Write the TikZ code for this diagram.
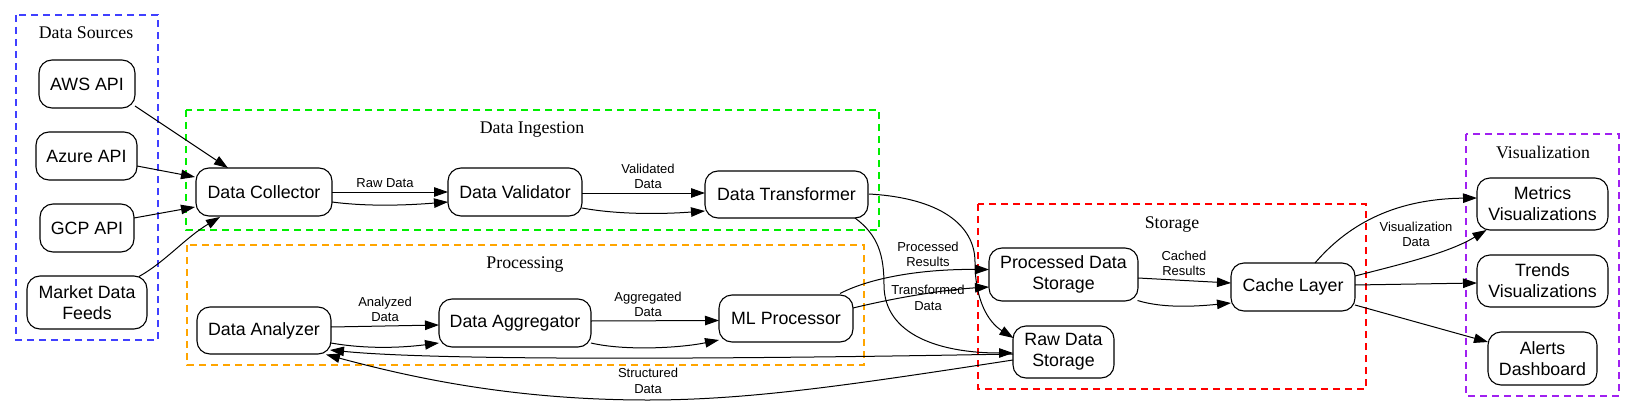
\documentclass[tikz,border=0pt]{standalone}
\usepackage{fontspec}
\setmainfont{Liberation Sans}
\newfontfamily\clusserif{Liberation Serif}
\usetikzlibrary{arrows.meta,calc}
\definecolor{cblue}{HTML}{4040FF}
\definecolor{cgreen}{HTML}{00EE00}
\definecolor{corange}{HTML}{FFA500}
\definecolor{cred}{HTML}{FF0000}
\definecolor{cpurple}{HTML}{A020F0}
\newcommand\nodefnt{\fontsize{17.8}{21}\selectfont}
\newcommand\lblfnt{\fontsize{13}{15.5}\selectfont}
\newcommand\clusfnt{\clusserif\fontsize{17.8}{21}\selectfont}
\begin{document}
\begin{tikzpicture}[x=1pt,y=-1pt,
  box/.style={draw, fill=white, rounded corners=13pt, line width=1.1pt, inner sep=0pt, font=\nodefnt, align=center},
  cluster/.style={line width=1.1pt, dash pattern=on 7pt off 5pt},
  clabel/.style={font=\clusfnt, inner sep=0pt, anchor=base},
  lbl/.style={font=\lblfnt, align=center, inner sep=0pt},
  edge/.style={line width=1.0pt, -{Triangle[length=14pt,width=9.5pt]}}]
\useasboundingbox (0,0) rectangle (1635,412);
% clusters
\draw[cluster, cblue] (16,15) rectangle (158,340);
\node[clabel] (lsrc) at (86,39) {Data Sources};
\draw[cluster, cgreen] (186,110) rectangle (879,230);
\node[clabel] (ling) at (532,133) {Data Ingestion};
\draw[cluster, corange] (187,245) rectangle (864,365);
\node[clabel] (lproc) at (525,268) {Processing};
\draw[cluster, cred] (978,204) rectangle (1366,389);
\node[clabel] (lsto) at (1172,228) {Storage};
\draw[cluster, cpurple] (1466,134) rectangle (1619,396);
\node[clabel] (lvz) at (1543,158) {Visualization};
% nodes
\node[box, minimum width=96, minimum height=48] (aws) at (87,84) {AWS API};
\node[box, minimum width=101, minimum height=48] (azure) at (86.5,156) {Azure API};
\node[box, minimum width=94, minimum height=48] (gcp) at (87,228) {GCP API};
\node[box, minimum width=120, minimum height=53] (mkt) at (87,302.5) {Market Data\\Feeds};
\node[box, minimum width=136, minimum height=48] (col) at (264,192) {Data Collector};
\node[box, minimum width=134, minimum height=48] (val) at (515,192) {Data Validator};
\node[box, minimum width=163, minimum height=47] (trn) at (786.5,194.5) {Data Transformer};
\node[box, minimum width=134, minimum height=47] (ana) at (264,330.5) {Data Analyzer};
\node[box, minimum width=152, minimum height=48] (agg) at (515,323) {Data Aggregator};
\node[box, minimum width=134, minimum height=47] (ml) at (786,318.5) {ML Processor};
\node[box, minimum width=149, minimum height=53] (prc) at (1063.5,274.5) {Processed Data\\Storage};
\node[box, minimum width=101, minimum height=52] (raw) at (1063.5,352) {Raw Data\\Storage};
\node[box, minimum width=124, minimum height=48] (cch) at (1293,287) {Cache Layer};
\node[box, minimum width=131, minimum height=52] (met) at (1542.5,204) {Metrics\\Visualizations};
\node[box, minimum width=131, minimum height=52] (trd) at (1542.5,281) {Trends\\Visualizations};
\node[box, minimum width=109, minimum height=53] (alr) at (1542.5,358.5) {Alerts\\Dashboard};
% edges
\draw[edge] ($(aws)+(48,22)$) -- ($(col)+(-36,-24)$);
\draw[edge] ($(azure)+(50.5,10)$) -- ($(col)+(-69,-15)$);
\draw[edge] ($(gcp)+(47,-10)$) -- ($(col)+(-69,15)$);
\draw[edge] ($(mkt)+(52,-26)$) .. controls (165,262) and (185,238) .. ($(col)+(-44,25)$);
\draw[edge] ($(col)+(68,0)$) -- ($(val)+(-67,0)$);
\draw[edge] ($(col)+(68,10)$) .. controls (370,207) and (410,205) .. ($(val)+(-67,10)$);
\draw[edge] ($(val)+(67,1)$) -- ($(trn)+(-81.5,-1.5)$);
\draw[edge] ($(val)+(67,16)$) .. controls (620,215) and (665,214) .. ($(trn)+(-81.5,16.5)$);
\draw[edge] ($(trn)+(82.5,-0.5)$) .. controls (940,198) and (975,225) .. (975,262) .. controls (975,300) and (988,322) .. ($(raw)+(-50,-14)$);
\draw[edge] ($(trn)+(68.5,23.5)$) .. controls (878,235) and (884,255) .. (884,285) .. controls (884,335) and (940,353) .. ($(raw)+(-50.5,1)$);
\draw[edge] ($(ml)+(54,-25)$) .. controls (870,278) and (920,269) .. ($(prc)+(-74.5,-5)$);
\draw[edge] ($(ml)+(67,-10.5)$) .. controls (890,299) and (940,290) .. ($(prc)+(-74.5,12.5)$);
\draw[edge] ($(raw)+(-50.5,2)$) .. controls (800,358) and (450,362) .. ($(ana)+(66,19.5)$);
\draw[edge] ($(raw)+(-50.5,8)$) .. controls (850,385) and (750,400) .. (648,400) .. controls (520,400) and (420,380) .. ($(ana)+(62,24)$);
\draw[edge] ($(ana)+(67,-3.5)$) -- ($(agg)+(-76,2)$);
\draw[edge] ($(ana)+(67,12.5)$) .. controls (365,349) and (400,348) .. ($(agg)+(-76,20)$);
\draw[edge] ($(agg)+(76,-2)$) -- ($(ml)+(-67,2)$);
\draw[edge] ($(agg)+(76,20)$) .. controls (625,351) and (680,348) .. ($(ml)+(-67,21.5)$);
\draw[edge] ($(prc)+(74.5,3.5)$) -- ($(cch)+(-62,-4)$);
\draw[edge] ($(prc)+(74,26)$) .. controls (1165,309) and (1200,306) .. ($(cch)+(-62,16)$);
\draw[edge] ($(cch)+(22,-24)$) .. controls (1345,228) and (1390,199) .. ($(met)+(-65.5,-6)$);
\draw[edge] ($(cch)+(62,-11)$) .. controls (1410,262) and (1450,252) .. ($(met)+(-56,26)$);
\draw[edge] ($(cch)+(62,-2)$) -- ($(trd)+(-65.5,2)$);
\draw[edge] ($(cch)+(62,18)$) -- ($(alr)+(-54.5,-16.5)$);
% edge labels
\node[lbl] (lraw) at (385,183) {Raw Data};
\node[lbl] (lval) at (648,176.5) {Validated\\Data};
\node[lbl] (lana) at (385,309.5) {Analyzed\\Data};
\node[lbl] (lagg) at (648,304.5) {Aggregated\\Data};
\node[lbl] (lprc) at (928,254.5) {Processed\\Results};
\node[lbl] (ltrn) at (928,298) {Transformed\\Data};
\node[lbl] (lstr) at (648,381) {Structured\\Data};
\node[lbl] (lcch) at (1184,263.5) {Cached\\Results};
\node[lbl] (lvis) at (1416,234.5) {Visualization\\Data};
\end{tikzpicture}
\end{document}
